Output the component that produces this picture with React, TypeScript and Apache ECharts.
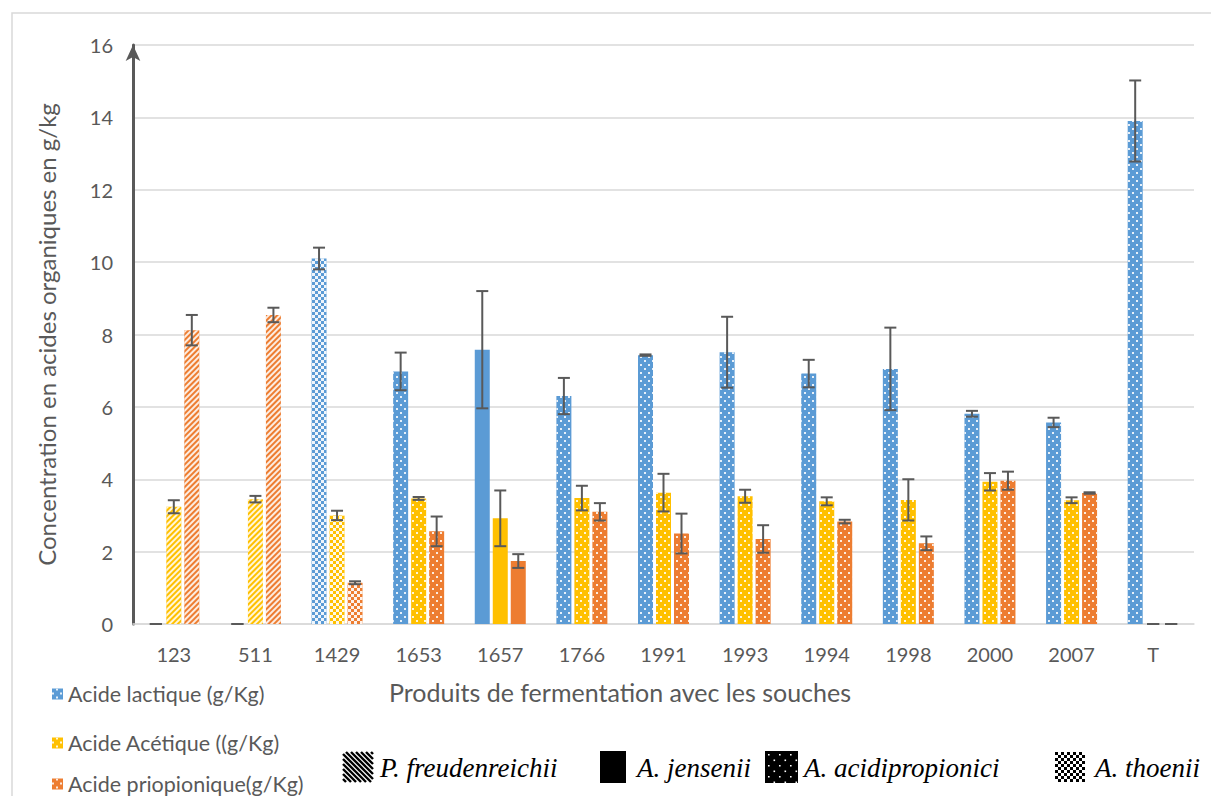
import React, { useEffect, useRef } from "react";
import * as echarts from "echarts";

const categories = ["123", "511", "1429", "1653", "1657", "1766", "1991", "1993", "1994", "1998", "2000", "2007", "T"];
const seriesNames = ["Acide lactique (g/Kg)", "Acide Acétique ((g/Kg)", "Acide priopionique(g/Kg)"];
const lactic = [0, 0, 10.1, 6.98, 7.58, 6.3, 7.43, 7.51, 6.92, 7.05, 5.81, 5.57, 13.9];
const lacticErr = [0, 0, 0.3, 0.52, 1.62, 0.5, 0.02, 0.98, 0.38, 1.14, 0.08, 0.13, 1.12];
const acetic = [3.24, 3.45, 3.0, 3.47, 2.92, 3.48, 3.63, 3.53, 3.39, 3.43, 3.93, 3.42, 0];
const aceticErr = [0.18, 0.09, 0.13, 0.04, 0.77, 0.34, 0.52, 0.18, 0.11, 0.57, 0.24, 0.08, 0];
const propionic = [8.12, 8.54, 1.14, 2.56, 1.74, 3.1, 2.5, 2.35, 2.83, 2.23, 3.96, 3.62, 0];
const propionicErr = [0.42, 0.2, 0.04, 0.41, 0.19, 0.24, 0.55, 0.38, 0.05, 0.19, 0.25, 0.02, 0];
// strain of each fermentation product: P = P. freudenreichii, J = A. jensenii, A = A. acidipropionici, T = A. thoenii
const strainOfCategory = ["P", "P", "T", "A", "J", "A", "A", "A", "A", "A", "A", "A", "A"];
const strainNames = ["P. freudenreichii", "A. jensenii", "A. acidipropionici", "A. thoenii"];
const xTitle = "Produits de fermentation avec les souches";
const yTitle = "Concentration en acides organiques en g/kg";

const COLORS = ["#5B9BD5", "#FFC000", "#ED7D31"];
const FONT = "Lato, 'Noto Sans', sans-serif";
const SERIF_FONT = "italic 27px 'Liberation Serif', serif";

const decals: Record<string, any> = {
  A: {
    symbol: "rect",
    symbolSize: 1,
    color: "rgba(255,255,255,0.85)",
    dashArrayX: [[2, 6], [0, 4, 2, 2]],
    dashArrayY: [2, 2],
  },
  T: {
    symbol: "rect",
    symbolSize: 1,
    color: "rgba(255,255,255,0.9)",
    dashArrayX: [[3, 3], [0, 3, 3, 0]],
    dashArrayY: [3, 0],
  },
  P: {
    symbol: "rect",
    symbolSize: 1,
    color: "rgba(255,255,255,0.85)",
    dashArrayX: [1, 0],
    dashArrayY: [2, 2],
    rotation: -Math.PI / 4,
  },
  J: {
    symbol: "rect",
    symbolSize: 1,
    color: "rgba(0,0,0,0)",
    dashArrayX: [1, 0],
    dashArrayY: [4, 4],
  },
};

const BAR_W = 15;
const BAR_GAP = 3;

function buildBar(name: string, values: number[], color: string) {
  return {
    name,
    type: "bar",
    barWidth: BAR_W,
    barGap: "20%",
    itemStyle: { color, decal: decals.A },
    data: values.map((v, i) => ({
      value: v,
      itemStyle: { decal: decals[strainOfCategory[i]] },
    })),
    z: 2,
  };
}

function buildErr(values: number[], errs: number[], offset: number) {
  return {
    type: "custom",
    silent: true,
    z: 5,
    data: values.map((v, i) => [i, v, errs[i]]),
    renderItem: (params: any, api: any) => {
      const idx = api.value(0);
      const v = api.value(1);
      const e = api.value(2);
      const top = api.coord([idx, v + e]);
      const bot = api.coord([idx, Math.max(0, v - e)]);
      const cx = top[0] + offset;
      const capHalf = 6;
      const style = { stroke: "#595959", lineWidth: 2 };
      return {
        type: "group",
        children: [
          { type: "line", shape: { x1: cx, y1: top[1], x2: cx, y2: bot[1] }, style },
          { type: "line", shape: { x1: cx - capHalf, y1: top[1], x2: cx + capHalf, y2: top[1] }, style },
          { type: "line", shape: { x1: cx - capHalf, y1: bot[1], x2: cx + capHalf, y2: bot[1] }, style },
        ],
      };
    },
  };
}

function strainLegendGraphics() {
  const els: any[] = [];
  const S = 30;
  const textY = 768;
  // stripes icon (P. freudenreichii)
  const sx = 343, sy = 752;
  els.push({ type: "rect", shape: { x: sx, y: sy, width: S, height: S }, style: { fill: "#fff" } });
  for (let c = -S + 3; c < S; c += 5) {
    const x1 = Math.max(0, c), y1 = Math.max(0, -c);
    const x2 = Math.min(S, S + c), y2 = Math.min(S, S - c);
    els.push({ type: "line", shape: { x1: sx + x1, y1: sy + y1, x2: sx + x2, y2: sy + y2 }, style: { stroke: "#000", lineWidth: 2.4 } });
  }
  els.push({ type: "text", x: 380, y: textY, style: { text: strainNames[0], font: SERIF_FONT, fill: "#000", verticalAlign: "middle" } });
  // solid (A. jensenii)
  els.push({ type: "rect", shape: { x: 600, y: 751, width: 26, height: 32 }, style: { fill: "#000" } });
  els.push({ type: "text", x: 637, y: textY, style: { text: strainNames[1], font: SERIF_FONT, fill: "#000", verticalAlign: "middle" } });
  // dots (A. acidipropionici)
  const dx = 765, dy = 751, DW = 33, DH = 32;
  els.push({ type: "rect", shape: { x: dx, y: dy, width: DW, height: DH }, style: { fill: "#000" } });
  let row = 0;
  for (let y = 3; y < DH - 1; y += 5.5) {
    for (let x = row % 2 === 0 ? 3 : 8.5; x < DW - 1; x += 11) {
      els.push({ type: "rect", shape: { x: dx + x, y: dy + y, width: 1.6, height: 1.6 }, style: { fill: "#fff" } });
    }
    row++;
  }
  els.push({ type: "text", x: 804, y: textY, style: { text: strainNames[2], font: SERIF_FONT, fill: "#000", verticalAlign: "middle" } });
  // checker (A. thoenii)
  const kx = 1055, ky = 752, C = 3;
  els.push({ type: "rect", shape: { x: kx, y: ky, width: S, height: S }, style: { fill: "#fff" } });
  for (let r = 0; r < S / C; r++) {
    for (let q = 0; q < S / C; q++) {
      if ((r + q) % 2 === 0) {
        els.push({ type: "rect", shape: { x: kx + q * C, y: ky + r * C, width: C, height: C }, style: { fill: "#000" } });
      }
    }
  }
  els.push({ type: "text", x: 1095, y: textY, style: { text: strainNames[3], font: SERIF_FONT, fill: "#000", verticalAlign: "middle" } });
  return els;
}

export default function App() {
  const ref = useRef<HTMLDivElement>(null);
  useEffect(() => {
    if (!ref.current) return;
    const chart = echarts.init(ref.current, undefined, { renderer: "svg" });
    const step = BAR_W + BAR_GAP;
    const legendTops = [678, 727, 768];
    chart.setOption({
      animation: false,
      backgroundColor: "#fff",
      textStyle: { fontFamily: FONT },
      grid: { left: 133, right: 17, top: 45, bottom: 172, containLabel: false },
      legend: seriesNames.map((n, i) => ({
        data: [n],
        orient: "vertical",
        left: 47,
        top: legendTops[i],
        icon: "rect",
        itemWidth: 11,
        itemHeight: 11,
        itemGap: 8,
        selectedMode: false,
        textStyle: { color: "#595959", fontSize: 21.5, fontFamily: FONT },
      })),
      xAxis: {
        type: "category",
        data: categories,
        axisLine: { lineStyle: { color: "#D9D9D9", width: 1.5 } },
        axisTick: { show: false },
        axisLabel: { color: "#595959", fontSize: 20, margin: 20, fontFamily: FONT },
      },
      yAxis: {
        type: "value",
        min: 0,
        max: 16,
        interval: 2,
        axisLine: {
          show: true,
          symbol: ["none", "arrow"],
          symbolSize: [11, 16],
          lineStyle: { color: "#595959", width: 3 },
        },
        axisTick: { show: false },
        splitLine: { lineStyle: { color: "#D9D9D9", width: 1.5 } },
        axisLabel: { color: "#595959", fontSize: 20, margin: 20, fontFamily: FONT },
        name: yTitle,
        nameLocation: "middle",
        nameGap: 75,
        nameTextStyle: { color: "#595959", fontSize: 24, fontFamily: FONT },
      },
      graphic: [
        { type: "rect", shape: { x: 12, y: 13, width: 1220, height: 810 }, style: { fill: "none", stroke: "#D9D9D9", lineWidth: 1.5 }, z: -10 },
        {
          type: "text",
          x: 620,
          y: 692,
          style: { text: xTitle, fill: "#595959", font: `25px ${FONT}`, align: "center", verticalAlign: "middle" },
        },
        ...strainLegendGraphics(),
      ],
      series: [
        buildBar(seriesNames[0], lactic, COLORS[0]),
        buildBar(seriesNames[1], acetic, COLORS[1]),
        buildBar(seriesNames[2], propionic, COLORS[2]),
        buildErr(lactic, lacticErr, -step),
        buildErr(acetic, aceticErr, 0),
        buildErr(propionic, propionicErr, step),
      ],
    });
    return () => chart.dispose();
  }, []);
  return (
    <div
      ref={ref}
      style={{ position: "fixed", left: 0, top: 0, width: 1211, height: 796, background: "#fff" }}
    />
  );
}
